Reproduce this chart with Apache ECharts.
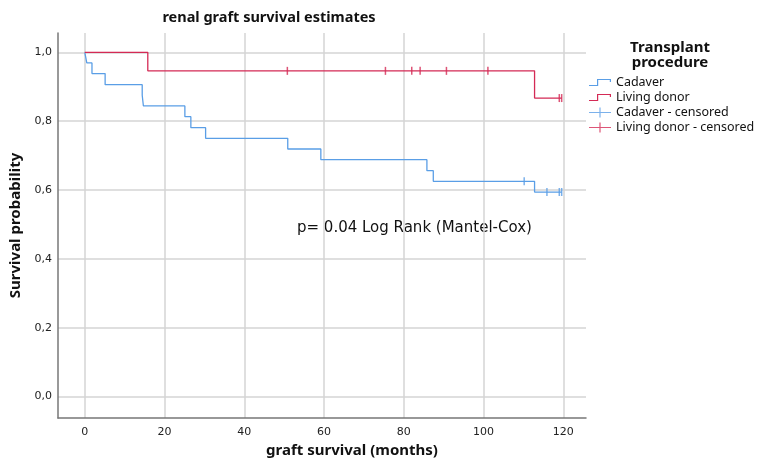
<!DOCTYPE html>
<html>
<head>
<meta charset="utf-8">
<script src="https://cdn.jsdelivr.net/npm/echarts@6/dist/echarts.min.js"></script>
<style>
html,body{margin:0;padding:0;background:#fff;}
#chart{width:765px;height:461px;}
</style>
</head>
<body>
<div id="chart"></div>
<script>
// ---- data ----
var xTicks = [0, 20, 40, 60, 80, 100, 120];
var yTicks = [0, 0.2, 0.4, 0.6, 0.8, 1.0];
var cadaverSteps = [[0,1],[0.5,0.969],[1.8,0.938],[5.1,0.906],[14.4,0.875],[14.7,0.844],[25.1,0.813],[26.6,0.781],[30.3,0.75],[50.9,0.719],[59.2,0.688],[85.8,0.656],[87.4,0.625],[112.8,0.594],[119.6,0.594]];
var cadaverCensored = [[110.2,0.625],[115.9,0.594],[119.0,0.594],[119.6,0.594]];
var livingSteps = [[0,1],[15.8,0.946],[112.8,0.867],[119.6,0.867]];
var livingCensored = [[50.8,0.946],[75.4,0.946],[82.0,0.946],[84.1,0.946],[90.7,0.946],[101.1,0.946],[119.0,0.867],[119.6,0.867]];
var seriesNames = ['Cadaver', 'Living donor', 'Cadaver - censored', 'Living donor - censored'];
var pText = 'p= 0.04 Log Rank (Mantel-Cox)';

var BLUE = '#5a9ee6', RED = '#d42a55';
var stepIcon = 'path://M0,7H9V8.2H0Z M8,1H9.2V8.2H8Z M8,1H22V2.2H8Z M20.8,1H22V4H20.8Z';
var crossIcon = 'path://M0,4.4H22V5.6H0Z M10.4,0H11.6V10H10.4Z';
var tickSym = 'path://M0,0H1V8H0Z';

var chart = echarts.init(document.getElementById('chart'));
chart.setOption({
  animation: false,
  backgroundColor: '#fff',
  textStyle: {fontFamily: 'Noto Sans'},
  grid: {left: 54, right: 179, top: 33, bottom: 43, containLabel: false},
  xAxis: {
    type: 'value', min: -6.72, max: 125.7,
    axisLine: {show: true, onZero: false, lineStyle: {color: '#777', width: 1.5}},
    axisTick: {show: false, customValues: xTicks},
    axisLabel: {customValues: xTicks, color: '#222', fontSize: 11, margin: 9, fontFamily: 'DejaVu Sans'},
    splitLine: {show: true, lineStyle: {color: '#d4d4d4', width: 1.5}}
  },
  yAxis: {
    type: 'value', min: -0.0625, max: 1.056,
    name: 'Survival probability', nameLocation: 'middle', nameGap: 35, nameRotate: 90,
    nameTextStyle: {fontWeight: 'bold', fontSize: 15, color: '#111', fontFamily: 'Noto Sans'},
    axisLine: {show: true, onZero: false, lineStyle: {color: '#777', width: 1.5}},
    axisTick: {show: false, customValues: yTicks},
    axisLabel: {customValues: yTicks, color: '#222', fontSize: 11, margin: 6, fontFamily: 'DejaVu Sans',
      formatter: function (v) { return v.toFixed(1).replace('.', ','); }},
    splitLine: {show: true, lineStyle: {color: '#d4d4d4', width: 1.5}}
  },
  legend: {
    orient: 'vertical', left: 589, top: 76, itemWidth: 22, itemHeight: 10, itemGap: 2, padding: 0,
    textStyle: {fontSize: 12.5, lineHeight: 13, color: '#111', fontFamily: 'Noto Sans'},
    data: [
      {name: seriesNames[0], icon: stepIcon, itemStyle: {color: BLUE}},
      {name: seriesNames[1], icon: stepIcon, itemStyle: {color: RED}},
      {name: seriesNames[2], icon: crossIcon, itemStyle: {color: BLUE}},
      {name: seriesNames[3], icon: crossIcon, itemStyle: {color: RED}}
    ]
  },
  graphic: [
    {type: 'text', x: 269, y: 18, style: {text: 'renal graft survival estimates', fill: '#111', font: 'bold 14.5px "Noto Sans"', textAlign: 'center', textVerticalAlign: 'middle'}},
    {type: 'text', x: 352, y: 451, style: {text: 'graft survival (months)', fill: '#111', font: 'bold 15px "Noto Sans"', textAlign: 'center', textVerticalAlign: 'middle'}},
    {type: 'text', x: 670, y: 55, style: {text: 'Transplant\nprocedure', fill: '#111', font: 'bold 15px "Noto Sans"', textAlign: 'center', textVerticalAlign: 'middle', lineHeight: 15}},
    {type: 'text', x: 297, y: 228, style: {text: pText, fill: '#111', font: '15px "DejaVu Sans"', textAlign: 'left', textVerticalAlign: 'middle'}}
  ],
  series: [
    {name: seriesNames[0], type: 'line', step: 'end', data: cadaverSteps, showSymbol: false, symbol: 'none',
     lineStyle: {color: BLUE, width: 1.3}, itemStyle: {color: BLUE}, z: 3},
    {name: seriesNames[1], type: 'line', step: 'end', data: livingSteps, showSymbol: false, symbol: 'none',
     lineStyle: {color: RED, width: 1.3}, itemStyle: {color: RED}, z: 3},
    {name: seriesNames[2], type: 'scatter', data: cadaverCensored, symbol: tickSym, symbolSize: [1.5, 8],
     itemStyle: {color: BLUE}, z: 4},
    {name: seriesNames[3], type: 'scatter', data: livingCensored, symbol: tickSym, symbolSize: [1.5, 8],
     itemStyle: {color: RED}, z: 4}
  ]
});
</script>
</body>
</html>
